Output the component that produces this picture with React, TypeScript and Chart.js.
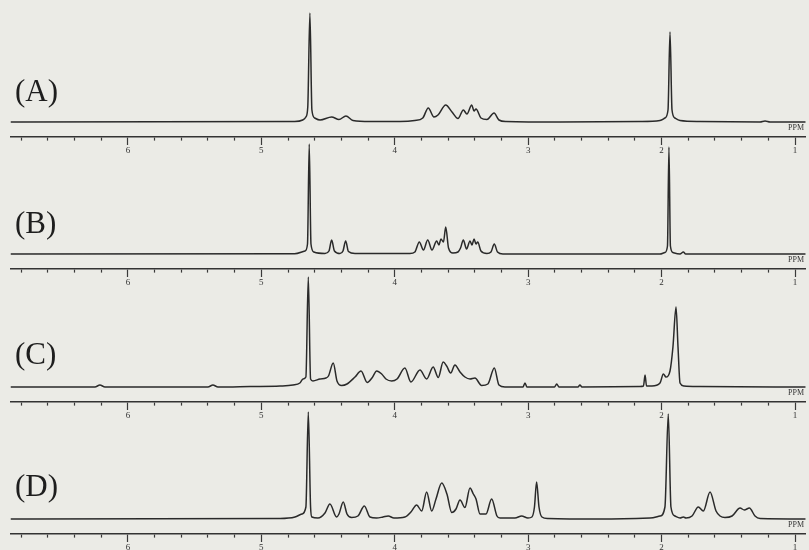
import React, { useEffect, useRef } from "react";
import { Chart, registerables } from "chart.js";

Chart.register(...registerables);

// ---- Data (chemical shift in ppm, relative intensity) ----
const panelLabels = ["(A)", "(B)", "(C)", "(D)"];
const axisUnit = "PPM";

const ppmA = [6.88, 4.75, 4.69, 4.666, 4.652, 4.636, 4.621, 4.6, 4.56, 4.473, 4.418, 4.366, 4.313, 4.186, 3.961, 3.85, 3.79, 3.749, 3.706, 3.676, 3.618, 3.571, 3.526, 3.486, 3.459, 3.423, 3.406, 3.391, 3.354, 3.309, 3.256, 3.219, 3.166, 2.76, 2.16, 2.012, 1.975, 1.952, 1.937, 1.922, 1.9, 1.862, 1.712, 1.262, 1.225, 1.187, 0.92];
const intA = [0, 0.5, 2, 5, 15, 109, 12, 4, 2, 5, 2.5, 6, 1.5, 0.5, 0.5, 1.5, 4, 14, 5, 7, 17, 10, 3.5, 12, 8, 17, 11, 13, 4, 2.5, 9, 2, 0.5, 0, 0.5, 1.5, 4, 12, 90, 12, 4, 1.5, 0.5, 0, 1, 0, 0];

const ppmB = [6.88, 4.75, 4.673, 4.654, 4.641, 4.628, 4.606, 4.523, 4.493, 4.473, 4.452, 4.411, 4.388, 4.368, 4.347, 4.298, 3.886, 3.849, 3.816, 3.785, 3.753, 3.721, 3.686, 3.669, 3.654, 3.635, 3.618, 3.597, 3.564, 3.526, 3.507, 3.486, 3.462, 3.436, 3.421, 3.406, 3.391, 3.378, 3.354, 3.309, 3.279, 3.254, 3.23, 3.189, 2.012, 1.975, 1.956, 1.945, 1.934, 1.915, 1.862, 1.837, 1.82, 0.92];
const intB = [0, 0.3, 3, 10, 110, 10, 2, 0.5, 3, 14, 3, 0.5, 3, 13, 2.5, 0.5, 0.5, 2, 12, 4, 14, 4, 13, 9, 15, 12, 27, 6, 1, 2, 6, 14, 5, 13, 9, 15, 10, 12, 3, 0.5, 2, 10, 2, 0, 0, 1.5, 8, 107, 8, 1.5, 0, 2, 0, 0];

const ppmC = [6.88, 6.247, 6.21, 6.172, 5.4, 5.363, 5.325, 5.085, 4.86, 4.763, 4.711, 4.688, 4.666, 4.648, 4.631, 4.613, 4.561, 4.516, 4.497, 4.461, 4.433, 4.398, 4.358, 4.298, 4.253, 4.206, 4.171, 4.135, 4.098, 4.066, 4.023, 3.983, 3.924, 3.879, 3.811, 3.761, 3.712, 3.674, 3.637, 3.611, 3.581, 3.549, 3.511, 3.474, 3.436, 3.399, 3.349, 3.302, 3.254, 3.219, 3.174, 3.039, 3.024, 3.009, 2.803, 2.786, 2.769, 2.627, 2.612, 2.597, 2.162, 2.136, 2.124, 2.113, 2.072, 2.012, 1.987, 1.967, 1.937, 1.915, 1.892, 1.877, 1.862, 1.832, 1.712, 0.92];
const intC = [0, 0, 2, 0, 0, 2, 0, 0.5, 1, 2, 4, 8, 10, 110, 8, 6, 8, 9, 11, 24, 6, 1.5, 3, 10, 16, 4.5, 9, 16, 13, 8, 6, 8, 19, 5, 17, 8, 20, 9.5, 25, 21, 14, 22, 15, 10, 8, 9, 1.5, 3, 19, 2, 0, 0, 4, 0, 0, 3, 0, 0, 2, 0, 0.5, 1, 12, 1, 1, 4, 13, 10, 16, 40, 80, 40, 4, 1, 0.5, 0];

const ppmD = [6.88, 4.86, 4.748, 4.696, 4.666, 4.648, 4.631, 4.621, 4.576, 4.523, 4.486, 4.436, 4.418, 4.386, 4.358, 4.323, 4.276, 4.228, 4.186, 4.136, 4.088, 4.049, 4.006, 3.924, 3.879, 3.836, 3.798, 3.761, 3.723, 3.691, 3.648, 3.609, 3.573, 3.541, 3.511, 3.474, 3.436, 3.411, 3.391, 3.361, 3.316, 3.274, 3.234, 3.211, 3.099, 3.049, 3.002, 2.972, 2.953, 2.937, 2.919, 2.897, 2.852, 2.462, 2.087, 2.012, 1.975, 1.95, 1.93, 1.9, 1.862, 1.837, 1.817, 1.772, 1.725, 1.687, 1.637, 1.592, 1.562, 1.525, 1.472, 1.412, 1.38, 1.342, 1.3, 1.262, 0.92];
const intD = [0, 0.5, 2, 5, 12, 107, 12, 2, 1, 6, 15, 2, 5, 17, 5, 1.5, 3, 13, 2, 1, 2, 3, 1, 2, 7, 14, 8, 27, 8, 20, 36, 25, 6.5, 10, 19, 11.5, 31, 25, 20, 5, 5, 20, 3, 1, 1, 3, 1, 2, 12, 37, 12, 2, 0.5, 0, 1, 3, 12, 105, 12, 3, 1, 2, 1, 3, 12, 8, 27, 8, 3, 1.5, 3, 11, 9, 11, 3, 0.5, 0];

const panelPpm = [ppmA, ppmB, ppmC, ppmD];
const panelInt = [intA, intB, intC, intD];

// ---- Layout ----
const W = 809;
const H = 550;
const CANVAS_H = 160;
const AXIS_IN_CANVAS = 137;
const panelAxisY = [137, 269, 402, 534];
const labelTop = [75, 207, 338, 470];

const BG = "#ebebe6";
const INK = "#2a2a2a";

function isMajor(v: number) {
  return Math.abs(v - Math.round(v)) < 1e-6;
}

function Panel({ index }: { index: number }) {
  const ref = useRef<HTMLCanvasElement | null>(null);
  useEffect(() => {
    if (!ref.current) return;
    const xs = panelPpm[index];
    const ys = panelInt[index];
    const points = xs.map((x, i) => ({ x, y: ys[i] }));
    const chart = new Chart(ref.current, {
      type: "line",
      data: {
        datasets: [
          {
            data: points,
            borderColor: INK,
            borderWidth: 1.5,
            pointRadius: 0,
            cubicInterpolationMode: "monotone",
            fill: false,
          },
        ],
      },
      options: {
        animation: false,
        responsive: false,
        devicePixelRatio: 1,
        layout: { padding: { left: 10.5, right: 3.3, top: 5, bottom: 4 } },
        plugins: { legend: { display: false }, tooltip: { enabled: false } },
        scales: {
          x: {
            type: "linear",
            reverse: true,
            min: 0.92,
            max: 6.88,
            border: { display: true, color: "#333", width: 1.6 },
            grid: {
              drawOnChartArea: false,
              drawTicks: true,
              tickLength: 8,
              tickColor: "#3a3a3a",
              tickWidth: 1.2,
              tickBorderDash: (ctx: any) => (ctx.tick && isMajor(ctx.tick.value) ? [] : [3, 30]),
            },
            ticks: {
              stepSize: 0.2,
              autoSkip: false,
              includeBounds: false,
              maxRotation: 0,
              padding: 1,
              color: "#333",
              font: { family: "'Liberation Serif', serif", size: 9, lineHeight: 1 },
              callback: (v: any) => {
                const n = Number(v);
                return isMajor(n) ? String(Math.round(n)) : "";
              },
            },
          },
          y: { display: false, min: -15, max: 117 },
        },
      },
    } as any);
    return () => chart.destroy();
  }, [index]);
  return (
    <canvas
      ref={ref}
      width={W}
      height={CANVAS_H}
      style={{
        position: "absolute",
        left: 0,
        top: panelAxisY[index] - AXIS_IN_CANVAS,
        width: W,
        height: CANVAS_H,
        display: "block",
      }}
    />
  );
}

export default function App() {
  return (
    <div
      style={{
        position: "fixed",
        left: 0,
        top: 0,
        width: W,
        height: H,
        overflow: "hidden",
        background: BG,
      }}
    >
      {panelLabels.map((lab, i) => (
        <Panel key={"p" + i} index={i} />
      ))}
      {panelLabels.map((lab, i) => (
        <div
          key={"l" + i}
          style={{
            position: "absolute",
            left: 15,
            top: labelTop[i],
            fontFamily: "'Liberation Serif', serif",
            fontSize: 31,
            lineHeight: 1,
            color: "#1e1e1e",
          }}
        >
          {lab}
        </div>
      ))}
      {panelLabels.map((lab, i) => (
        <div
          key={"u" + i}
          style={{
            position: "absolute",
            left: 788,
            top: panelAxisY[i] - 13,
            fontFamily: "'Liberation Serif', serif",
            fontSize: 8,
            lineHeight: 1,
            color: "#333",
          }}
        >
          {axisUnit}
        </div>
      ))}
    </div>
  );
}
